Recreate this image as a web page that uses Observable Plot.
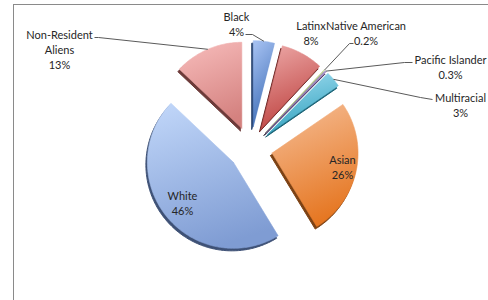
<!DOCTYPE html>
<html><head><meta charset="utf-8">
<script src="https://cdn.jsdelivr.net/npm/d3@7"></script>
<script src="https://cdn.jsdelivr.net/npm/@observablehq/plot@0.6"></script>
<style>
html,body{margin:0;padding:0;background:#fff;}
#wrap{position:relative;width:488px;height:300px;overflow:hidden;}
#frame{position:absolute;left:13px;top:4px;width:480px;height:300px;border-left:1px solid #8a8a8a;border-top:1px solid #8a8a8a;pointer-events:none;}
</style></head><body>
<div id="wrap"><div id="chart"></div><div id="frame"></div></div>
<script>
// ---- data ----
const categories = ["Black","Latinx","Native American","Pacific Islander","Multiracial","Asian","White","Non-Resident Aliens"];
const values = [4, 8, 0.2, 0.3, 3, 26, 46, 13];
const valueLabels = ["4%","8%","0.2%","0.3%","3%","26%","46%","13%"];
const labelNames = ["Black","Latinx","Native American","Pacific Islander","Multiracial","Asian","White","Non-Resident\nAliens"];

// ---- styles ----
const lightColors = ["#a3bff0","#eba4a3","#d9e8b8","#bcaad4","#9cdaee","#f5bb92","#bfd5f8","#f6bab9"];
const darkColors  = ["#3b6bb5","#bd413e","#8fae4b","#7558a0","#2fa1be","#e5751f","#7f9cd3","#d4817f"];
const edgeColors  = ["#26426e","#6e2523","#56702a","#44325f","#1c6477","#7c4113","#3e5176","#6d3a39"];

// ---- layout ----
const radius = 86, explode = 22;
const labelPos = [[-14,-124.5],[60.5,-115.5],[115.5,-115.5],[200,-81.5],[210,-44],[92,18],[-68,54],[-191,-99]];
const leaderElbows = [[[-5,-114],[2,-114]], null, [[103,-105],[99,-105]], [[162,-86],[154,-86]], [[182,-49],[170,-51]], null, null, [[-156,-111],[-152,-111]]];

// ---- geometry from data ----
const arcs = d3.pie().sort(null).value(d => d)(values);
const slices = arcs.map((a, i) => {
  const mid = (a.startAngle + a.endAngle) / 2;
  const ox = explode * Math.sin(mid), oy = -explode * Math.cos(mid);
  const n = Math.max(2, Math.ceil((a.endAngle - a.startAngle) / (Math.PI / 180)));
  const pts = [{x: ox, y: oy}];
  for (let k = 0; k <= n; k++) {
    const t = a.startAngle + (a.endAngle - a.startAngle) * k / n;
    pts.push({x: ox + radius * Math.sin(t), y: oy - radius * Math.cos(t)});
  }
  pts.push({x: ox, y: oy});
  const outer = {x: ox + radius * Math.sin(mid), y: oy - radius * Math.cos(mid)};
  return {i, pts, outer};
});

const labels = categories.map((c, i) => ({x: labelPos[i][0], y: labelPos[i][1], text: labelNames[i] + "\n" + valueLabels[i]}));
const leaders = [];
slices.forEach(s => {
  const e = leaderElbows[s.i];
  if (!e) return;
  e.forEach(p => leaders.push({k: s.i, x: p[0], y: p[1]}));
  leaders.push({k: s.i, x: s.outer.x, y: s.outer.y});
});

const marks = [];
slices.forEach(s => marks.push(Plot.line(s.pts, {x: "x", y: "y", fill: edgeColors[s.i], stroke: edgeColors[s.i], strokeWidth: 1, dx: -1.5, dy: 2.5})));
slices.forEach(s => marks.push(Plot.line(s.pts, {x: "x", y: "y", fill: `url(#grad${s.i})`, stroke: `url(#grad${s.i})`, strokeWidth: 0.6})));
marks.push(Plot.line(leaders, {x: "x", y: "y", z: "k", stroke: "#5a5a5a", strokeWidth: 1, strokeLinecap: "butt", strokeLinejoin: "miter"}));
marks.push(Plot.text(labels, {x: "x", y: "y", text: "text", fill: "#262626", fontSize: 11, lineHeight: 1.36}));

const chart = Plot.plot({
  width: 488, height: 300,
  margin: 0,
  x: {domain: [-250, 238], range: [0, 488], axis: null},
  y: {domain: [-148, 152], range: [0, 300], axis: null},
  style: {fontFamily: "Lato, 'Noto Sans', sans-serif", background: "transparent"},
  marks
});

const defs = d3.select(chart).insert("defs", ":first-child");
categories.forEach((c, i) => {
  const g = defs.append("linearGradient").attr("id", `grad${i}`)
    .attr("x1", 0.2).attr("y1", 0).attr("x2", 0.5).attr("y2", 1);
  g.append("stop").attr("offset", "0%").attr("stop-color", lightColors[i]);
  g.append("stop").attr("offset", "100%").attr("stop-color", darkColors[i]);
});
document.getElementById("chart").append(chart);
</script>
</body></html>
